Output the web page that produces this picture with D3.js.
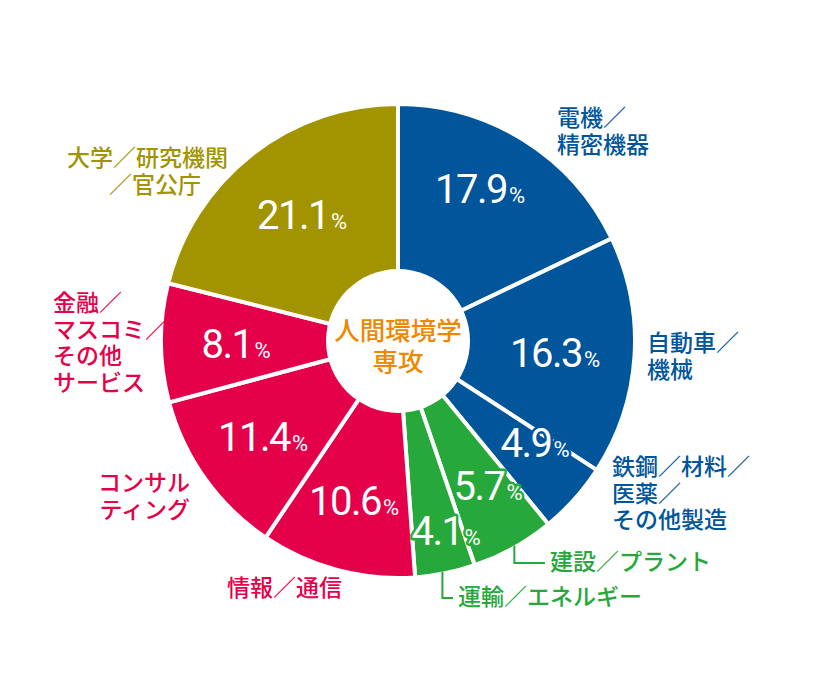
<!DOCTYPE html>
<html><head><meta charset="utf-8">
<script src="https://cdn.jsdelivr.net/npm/d3@7/dist/d3.min.js"></script>
<style>
html,body{margin:0;padding:0;background:#fff;}
svg{display:block;}
</style></head>
<body>
<svg id="chart" width="840" height="684"></svg>
<script>
// ---- data ----
const categories = ["電機／精密機器","自動車／機械","鉄鋼／材料／医薬／その他製造","建設／プラント","運輸／エネルギー","情報／通信","コンサルティング","金融／マスコミ／その他サービス","大学／研究機関／官公庁"];
const values = [17.9, 16.3, 4.9, 5.7, 4.1, 10.6, 11.4, 8.1, 21.1];
const groups = ["mfg","mfg","mfg","infra","infra","svc","svc","svc","acad"];
const centerTitle = ["人間環境学","専攻"];

// ---- layout / style ----
const W = 840, H = 684;
const cx = 398, cy = 341, R = 237, r0 = 72;
const colors = {mfg:"#00559b", infra:"#26a83a", svc:"#e5004a", acad:"#a29400"};
const color = d3.scaleOrdinal().domain(Object.keys(colors)).range(Object.values(colors));

// label positions relative to centre (x = centre of text, y = baseline)
const pctPos = [[82,-138],[157,26],[137,116],[90,159],[48,204],[-44,174],[-135,110],[-162,17],[-96,-112]];
const pctOutline = [false,false,true,true,true,false,false,false,false];

const catLayout = [
  {lines:["電機／","精密機器"], x:557, y:126, anchor:"start"},
  {lines:["自動車／","機械"], x:647, y:351, anchor:"start"},
  {lines:["鉄鋼／材料／","医薬／","その他製造"], x:612, y:475, anchor:"start"},
  {lines:["建設／プラント"], x:550, y:570, anchor:"start", leader:{angle:150.6}},
  {lines:["運輸／エネルギー"], x:458, y:605, anchor:"start", leader:{angle:169.2}},
  {lines:["情報／通信"], x:227, y:596, anchor:"start"},
  {lines:["コンサル","ティング"], x:190, y:491, anchor:"end"},
  {lines:["金融／","マスコミ／","その他","サービス"], x:53, y:311, anchor:"start"},
  {lines:["大学／研究機関","／官公庁"], x:67, y:166, anchor:"start", dx:[0,42]}
];

const svg = d3.select("#chart");
const g = svg.append("g").attr("transform", `translate(${cx},${cy})`);

const pie = d3.pie().sort(null).value(d => d);
const arcs = pie(values);
const arc = d3.arc().innerRadius(0).outerRadius(R);

g.selectAll("path.slice").data(arcs).enter().append("path")
  .attr("class","slice")
  .attr("d", arc)
  .attr("fill", (d,i) => color(groups[i]))
  .attr("stroke", "#fff")
  .attr("stroke-width", 4)
  .attr("stroke-linejoin","miter");

// centre circle
g.append("circle").attr("r", r0).attr("fill", "#fff");
g.append("text")
  .attr("text-anchor","middle")
  .attr("font-family","'Noto Sans CJK JP', sans-serif")
  .attr("font-size", 25.5)
  .attr("font-weight", 500)
  .attr("fill", "#ee8800")
  .selectAll("tspan").data(centerTitle).enter().append("tspan")
  .attr("x", 0)
  .attr("y", (d,i) => -1 + i*31)
  .text(d => d);

// percent labels
const pl = g.selectAll("text.pct").data(arcs).enter().append("text")
  .attr("class","pct")
  .attr("x", (d,i) => pctPos[i][0])
  .attr("y", (d,i) => pctPos[i][1])
  .attr("text-anchor","middle")
  .attr("font-family","Roboto, sans-serif")
  .attr("font-weight", 400)
  .attr("fill","#fff")
  .attr("paint-order","stroke")
  .attr("stroke", (d,i) => pctOutline[i] ? color(groups[i]) : "none")
  .attr("stroke-width", (d,i) => pctOutline[i] ? 5 : 0)
  .attr("stroke-linejoin","round");
pl.append("tspan").attr("font-size", 40).attr("letter-spacing", -1.5).text((d,i) => values[i].toFixed(1));
pl.append("tspan").attr("font-size", 22).attr("dx", 2).text("%");

// category labels
catLayout.forEach((c, i) => {
  c.lines.forEach((ln, j) => {
    svg.append("text")
      .attr("font-family","'Noto Sans CJK JP', sans-serif")
      .attr("font-size", 23)
      .attr("font-weight", 500)
      .attr("fill", color(groups[i]))
      .attr("text-anchor", c.anchor)
      .attr("x", c.x + (c.dx ? c.dx[j] : 0))
      .attr("y", c.y + j*26.5)
      .text(ln);
  });
  if (c.leader) {
    const a = c.leader.angle * Math.PI/180;
    const sx = cx + R*Math.sin(a), sy = cy - R*Math.cos(a);
    const ly = c.y - 7;
    svg.append("path")
      .attr("d", d3.line()([[sx, sy - 2],[sx, ly],[c.x - 5, ly]]))
      .attr("fill","none")
      .attr("stroke", color(groups[i]))
      .attr("stroke-width", 2);
  }
});
</script>
</body></html>
